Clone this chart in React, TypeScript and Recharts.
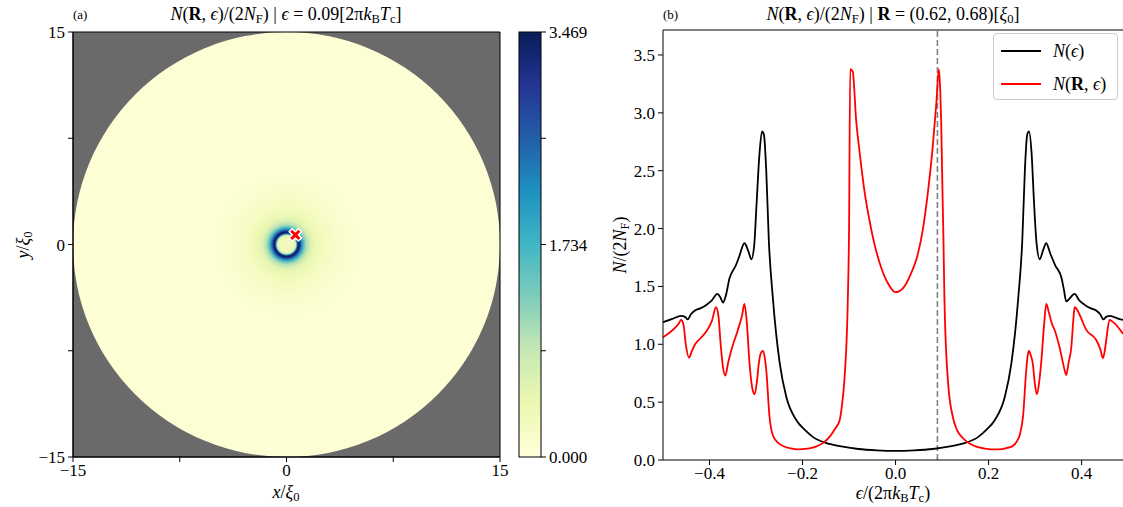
import React from 'react';
import {
  ComposedChart,
  LineChart,
  Line,
  XAxis,
  YAxis,
  ReferenceArea,
  ReferenceLine,
  Scatter,
  Legend,
} from 'recharts';

const FONT = '"Liberation Serif", "DejaVu Serif", serif';

// ---------- Panel (b): density of states ----------
const blackSeries: [number, number][] = [
  [-0.5, 1.19], [-0.48, 1.22], [-0.461, 1.245], [-0.452, 1.235], [-0.447, 1.215], [-0.44, 1.26],
  [-0.432, 1.29], [-0.42, 1.31], [-0.407, 1.34], [-0.395, 1.38], [-0.383, 1.435], [-0.376, 1.4],
  [-0.371, 1.36], [-0.365, 1.42], [-0.357, 1.57], [-0.343, 1.685], [-0.336, 1.76], [-0.325, 1.873],
  [-0.317, 1.81], [-0.31, 1.735], [-0.304, 1.85], [-0.299, 2.2], [-0.2925, 2.65], [-0.287, 2.84],
  [-0.283, 2.81], [-0.278, 2.5], [-0.2725, 1.9], [-0.264, 1.41], [-0.257, 1.1], [-0.249, 0.836],
  [-0.235, 0.547], [-0.2135, 0.346], [-0.195, 0.26], [-0.178, 0.2], [-0.15, 0.148], [-0.12, 0.12],
  [-0.08, 0.095], [-0.04, 0.083], [0, 0.078], [0.04, 0.083], [0.08, 0.095], [0.12, 0.12],
  [0.15, 0.148], [0.178, 0.2], [0.195, 0.26], [0.2135, 0.346], [0.235, 0.547], [0.249, 0.836],
  [0.257, 1.1], [0.264, 1.41], [0.2725, 1.9], [0.278, 2.5], [0.283, 2.81], [0.287, 2.84],
  [0.2925, 2.65], [0.298, 2.2], [0.303, 1.88], [0.31, 1.735], [0.317, 1.81], [0.324, 1.873],
  [0.333, 1.78], [0.343, 1.685], [0.357, 1.57], [0.362, 1.47], [0.367, 1.37], [0.373, 1.39],
  [0.385, 1.435], [0.395, 1.38], [0.407, 1.34], [0.42, 1.31], [0.432, 1.29], [0.44, 1.26],
  [0.447, 1.215], [0.452, 1.235], [0.461, 1.245], [0.48, 1.22], [0.489, 1.21],
];

const redSeries: [number, number][] = [
  [-0.5, 1.06], [-0.479, 1.124], [-0.466, 1.18], [-0.461, 1.21], [-0.456, 1.17], [-0.451, 1.0],
  [-0.444, 0.884], [-0.438, 0.94], [-0.432, 0.994], [-0.42, 1.05], [-0.407, 1.11], [-0.395, 1.2],
  [-0.386, 1.32], [-0.381, 1.25], [-0.376, 1.0], [-0.371, 0.8], [-0.366, 0.729], [-0.36, 0.84],
  [-0.353, 0.95], [-0.339, 1.124], [-0.33, 1.25], [-0.325, 1.348], [-0.32, 1.2], [-0.314, 0.836],
  [-0.308, 0.62], [-0.303, 0.568], [-0.298, 0.68], [-0.294, 0.836], [-0.289, 0.93], [-0.285, 0.942],
  [-0.281, 0.88], [-0.278, 0.778], [-0.271, 0.374], [-0.264, 0.216], [-0.253, 0.15], [-0.242, 0.121],
  [-0.225, 0.1], [-0.21, 0.092], [-0.19, 0.098], [-0.171, 0.115], [-0.155, 0.15], [-0.142, 0.2],
  [-0.13, 0.27], [-0.12, 0.346], [-0.115, 0.48], [-0.11, 0.69], [-0.1025, 1.41], [-0.1, 1.99],
  [-0.0975, 3.377], [-0.092, 3.357], [-0.085, 2.95], [-0.077, 2.65], [-0.066, 2.3], [-0.056, 2.07],
  [-0.045, 1.86], [-0.034, 1.7], [-0.0165, 1.527], [0, 1.45], [0.017, 1.49], [0.034, 1.62],
  [0.046, 1.75], [0.059, 2.0], [0.07, 2.33], [0.08, 2.71], [0.088, 3.1], [0.093, 3.377],
  [0.096, 3.2], [0.098, 2.94], [0.101, 2.3], [0.103, 1.9], [0.105, 1.41], [0.1125, 0.69],
  [0.123, 0.374], [0.132, 0.26], [0.145, 0.188], [0.16, 0.14], [0.1735, 0.115], [0.19, 0.1],
  [0.205, 0.092], [0.224, 0.092], [0.24, 0.105], [0.252, 0.121], [0.262, 0.17], [0.267, 0.216],
  [0.274, 0.374], [0.281, 0.778], [0.284, 0.9], [0.287, 0.942], [0.291, 0.9], [0.295, 0.836],
  [0.3, 0.64], [0.304, 0.568], [0.309, 0.68], [0.313, 0.836], [0.319, 1.15], [0.324, 1.348],
  [0.33, 1.27], [0.336, 1.18], [0.342, 1.124], [0.354, 0.95], [0.361, 0.82], [0.367, 0.735],
  [0.372, 0.84], [0.378, 0.98], [0.382, 1.2], [0.385, 1.32], [0.39, 1.3], [0.396, 1.253],
  [0.41, 1.124], [0.4315, 1.037], [0.44, 0.96], [0.446, 0.879], [0.45, 0.95], [0.453, 1.037],
  [0.46, 1.21], [0.465, 1.2], [0.471, 1.18], [0.489, 1.09],
];

const seriesNames = ['N(ϵ)', 'N(R, ϵ)'];
const epsTicks = [-0.4, -0.2, 0, 0.2, 0.4];
const dosTicks = [0, 0.5, 1, 1.5, 2, 2.5, 3, 3.5];
const epsDomain: [number, number] = [-0.5, 0.489];
const dosDomain: [number, number] = [0, 3.716];
const selectedEps = 0.09;

// ---------- Panel (a): LDOS map ----------
const spaceTicks = [-15, -7.5, 0, 7.5, 15];
const spaceTickLabels = ['\u221215', '', '0', '', '15'];
const diskRadius = 15;
const diskValue = 0.05;
const ringRadii = [0, 0.5, 0.65, 0.72, 0.8, 0.88, 0.95, 1.05, 1.2, 1.4, 1.7, 2.1, 2.8, 3.8, 5.0];
const ringValues = [0.3, 0.35, 0.7, 1.8, 3.2, 3.45, 3.0, 2.3, 1.6, 1.0, 0.6, 0.4, 0.25, 0.14, 0.05];
const markerPoint = [{ x: 0.62, y: 0.68 }];

// ---------- Colorbar ----------
const cbarMax = 3.469;
const cbarTicks = [0, 0.86725, 1.7345, 2.60175, 3.469];
const cbarTickLabels = ['0.000', '', '1.734', '', '3.469'];
const ylgnbu = ['#ffffd9', '#edf8b1', '#c7e9b4', '#7fcdbb', '#41b6c4', '#1d91c0', '#225ea8', '#253494', '#081d58'];

function hexToRgb(h: string) {
  return [parseInt(h.slice(1, 3), 16), parseInt(h.slice(3, 5), 16), parseInt(h.slice(5, 7), 16)];
}
function cmap(v: number) {
  const t = Math.max(0, Math.min(1, v / cbarMax)) * (ylgnbu.length - 1);
  const i = Math.min(Math.floor(t), ylgnbu.length - 2);
  const f = t - i;
  const a = hexToRgb(ylgnbu[i]);
  const b = hexToRgb(ylgnbu[i + 1]);
  const c = a.map((av, k) => Math.round(av + (b[k] - av) * f));
  return `rgb(${c[0]},${c[1]},${c[2]})`;
}

const tickStyle = { fontFamily: FONT, fontSize: 17, fill: '#000' };
const blackLine = { stroke: '#000' };

const fmtEps = (v: number) => (v < 0 ? '\u2212' + Math.abs(v).toFixed(1) : v.toFixed(1));
const fmtSpace = (v: number) => {
  const i = spaceTicks.indexOf(v);
  return i >= 0 ? spaceTickLabels[i] : '';
};
const fmtCbar = (v: number) => {
  const i = cbarTicks.indexOf(v);
  return i >= 0 ? cbarTickLabels[i] : '';
};

const blackData = blackSeries.map(([e, n]) => ({ eps: e, n }));
const redData = redSeries.map(([e, n]) => ({ eps: e, n }));

const DiskShape = (p: any) => (
  <ellipse
    cx={p.x + p.width / 2}
    cy={p.y + p.height / 2}
    rx={Math.abs(p.width) / 2}
    ry={Math.abs(p.height) / 2}
    fill={cmap(diskValue)}
  />
);

const RingShape = (p: any) => {
  const rMax = ringRadii[ringRadii.length - 1];
  return (
    <g>
      <defs>
        <radialGradient id="ringGrad" cx="50%" cy="50%" r="50%">
          {ringRadii.map((r, i) => (
            <stop key={i} offset={`${(r / rMax) * 100}%`} stopColor={cmap(ringValues[i])} />
          ))}
        </radialGradient>
      </defs>
      <ellipse
        cx={p.x + p.width / 2}
        cy={p.y + p.height / 2}
        rx={Math.abs(p.width) / 2}
        ry={Math.abs(p.height) / 2}
        fill="url(#ringGrad)"
      />
    </g>
  );
};

const MarkerShape = (p: any) => {
  const { cx, cy } = p;
  const s = 6.5;
  const a = 2.2;
  const pts = [
    [-a, -s], [a, -s], [a, -a], [s, -a], [s, a], [a, a],
    [a, s], [-a, s], [-a, a], [-s, a], [-s, -a], [-a, -a],
  ];
  const c = Math.SQRT1_2;
  const d = pts
    .map(([x, y]) => `${cx + (x - y) * c},${cy + (x + y) * c}`)
    .join(' ');
  return <polygon points={d} fill="#ff0000" stroke="#ffffff" strokeWidth={1.5} strokeLinejoin="miter" />;
};

const CbarShape = (p: any) => (
  <g>
    <defs>
      <linearGradient id="cbarGrad" x1="0" y1="1" x2="0" y2="0">
        {ylgnbu.map((c, i) => (
          <stop key={i} offset={`${(i / (ylgnbu.length - 1)) * 100}%`} stopColor={c} />
        ))}
      </linearGradient>
    </defs>
    <rect x={p.x} y={p.y} width={p.width} height={p.height} fill="url(#cbarGrad)" stroke="#000" strokeWidth={1} />
  </g>
);

const It = ({ children }: any) => <span style={{ fontStyle: 'italic' }}>{children}</span>;
const Sub = ({ children }: any) => (
  <span style={{ fontSize: '0.7em', verticalAlign: '-0.25em', lineHeight: 0 }}>{children}</span>
);

const legendLabel = (name: string) =>
  name === seriesNames[0] ? (
    <span>
      <It>N</It>(<It>ϵ</It>)
    </span>
  ) : (
    <span>
      <It>N</It>(<b>R</b>, <It>ϵ</It>)
    </span>
  );

const LegendBox = (props: any) => {
  const payload = [...(props.payload || [])].sort(
    (a: any, b: any) => seriesNames.indexOf(a.value) - seriesNames.indexOf(b.value)
  );
  return (
    <div
      style={{
        width: 125,
        height: 67,
        boxSizing: 'border-box',
        border: '1px solid #cccccc',
        borderRadius: 4,
        background: 'rgba(255,255,255,0.85)',
        fontFamily: FONT,
        fontSize: 18,
        color: '#000',
        position: 'relative',
      }}
    >
      {payload.map((entry: any, i: number) => (
        <div key={i} style={{ position: 'absolute', left: 7, top: 5 + i * 33, height: 24, display: 'flex', alignItems: 'center' }}>
          <svg width={40} height={4} style={{ marginRight: 12 }}>
            <line x1={0} y1={2} x2={40} y2={2} stroke={entry.color} strokeWidth={2} />
          </svg>
          {legendLabel(entry.value)}
        </div>
      ))}
    </div>
  );
};

const abs = (s: React.CSSProperties): React.CSSProperties => ({
  position: 'absolute',
  whiteSpace: 'nowrap',
  fontFamily: FONT,
  color: '#000',
  lineHeight: 1,
  ...s,
});

export default function App() {
  return (
    <div style={{ position: 'absolute', left: 0, top: 0, width: 1123, height: 507, background: '#fff', overflow: 'hidden' }}>
      {/* Panel (a) */}
      <div style={{ position: 'absolute', left: 0, top: 0 }}>
        <ComposedChart width={520} height={507} margin={{ top: 32, right: 20, bottom: 0, left: 0 }} data={markerPoint}>
          <XAxis
            type="number"
            dataKey="x"
            domain={[-diskRadius, diskRadius]}
            allowDataOverflow
            ticks={spaceTicks}
            interval={0}
            tickFormatter={fmtSpace}
            height={50}
            tick={tickStyle}
            tickLine={blackLine}
            axisLine={blackLine}
            tickSize={5}
            tickMargin={2}
          />
          <YAxis
            type="number"
            dataKey="y"
            domain={[-diskRadius, diskRadius]}
            allowDataOverflow
            ticks={spaceTicks}
            interval={0}
            tickFormatter={fmtSpace}
            width={73}
            tick={tickStyle}
            tickLine={blackLine}
            axisLine={blackLine}
            tickSize={5}
            tickMargin={3}
          />
          <ReferenceArea x1={-diskRadius} x2={diskRadius} y1={-diskRadius} y2={diskRadius} fill="#6a6a6a" fillOpacity={1} stroke="none" />
          <ReferenceArea x1={-diskRadius} x2={diskRadius} y1={-diskRadius} y2={diskRadius} shape={DiskShape} />
          <ReferenceArea
            x1={-ringRadii[ringRadii.length - 1]}
            x2={ringRadii[ringRadii.length - 1]}
            y1={-ringRadii[ringRadii.length - 1]}
            y2={ringRadii[ringRadii.length - 1]}
            shape={RingShape}
          />
          <Scatter dataKey="y" isAnimationActive={false} shape={MarkerShape} />
          <ReferenceArea x1={-diskRadius} x2={diskRadius} y1={-diskRadius} y2={diskRadius} fill="none" stroke="#000" strokeWidth={1} />
        </ComposedChart>
      </div>

      {/* Colorbar */}
      <div style={{ position: 'absolute', left: 500, top: 0 }}>
        <ComposedChart width={120} height={507} margin={{ top: 32, right: 0, bottom: 50, left: 19 }} data={[{ x: 0.5, v: 0 }]}>
          <XAxis type="number" dataKey="x" domain={[0, 1]} hide />
          <YAxis
            type="number"
            orientation="right"
            domain={[0, cbarMax]}
            allowDataOverflow
            ticks={cbarTicks}
            interval={0}
            tickFormatter={fmtCbar}
            width={79}
            tick={{ ...tickStyle, textAnchor: 'start' }}
            tickLine={blackLine}
            axisLine={false}
            tickSize={5}
            tickMargin={3}
          />
          <ReferenceArea x1={0} x2={1} y1={0} y2={cbarMax} shape={CbarShape} />
        </ComposedChart>
      </div>

      {/* Panel (b) */}
      <div style={{ position: 'absolute', left: 600, top: 0 }}>
        <LineChart width={523} height={507} margin={{ top: 30, right: 0, bottom: 0, left: 0 }}>
          <XAxis
            type="number"
            dataKey="eps"
            domain={epsDomain}
            allowDataOverflow
            ticks={epsTicks}
            interval={0}
            tickFormatter={fmtEps}
            height={47}
            tick={tickStyle}
            tickLine={blackLine}
            axisLine={blackLine}
            tickSize={5}
            tickMargin={2}
          />
          <YAxis
            type="number"
            domain={dosDomain}
            allowDataOverflow
            ticks={dosTicks}
            interval={0}
            tickFormatter={(v: number) => v.toFixed(1)}
            width={63}
            tick={tickStyle}
            tickLine={blackLine}
            axisLine={blackLine}
            tickSize={5}
            tickMargin={3}
          />
          <ReferenceLine y={dosDomain[1]} stroke="#000" ifOverflow="visible" />
          <ReferenceLine x={selectedEps} stroke="#808080" strokeWidth={1.6} strokeDasharray="6 3" />
          <Line
            data={blackData}
            dataKey="n"
            name={seriesNames[0]}
            stroke="#000000"
            strokeWidth={1.8}
            dot={false}
            type="monotone"
            isAnimationActive={false}
          />
          <Line
            data={redData}
            dataKey="n"
            name={seriesNames[1]}
            stroke="#ff0000"
            strokeWidth={1.8}
            dot={false}
            type="monotone"
            isAnimationActive={false}
          />
          <Legend
            layout="horizontal"
            verticalAlign="middle"
            align="center"
            content={LegendBox}
            wrapperStyle={{ left: 393, top: 33, width: 125, height: 67 }}
          />
        </LineChart>
      </div>

      {/* Titles and axis labels */}
      <div style={abs({ left: 73, top: 8, fontSize: 13 })}>(a)</div>
      <div style={abs({ left: 86, width: 400, top: 5, fontSize: 18, textAlign: 'center' })}>
        <It>N</It>(<b>R</b>, <It>ϵ</It>)/(2<It>N</It>
        <Sub>F</Sub>) | <It>ϵ</It> = 0.09[2π<It>k</It>
        <Sub>B</Sub>
        <It>T</It>
        <Sub>c</Sub>]
      </div>
      <div style={abs({ left: 663, top: 8, fontSize: 13 })}>(b)</div>
      <div style={abs({ left: 693, width: 400, top: 5, fontSize: 18, textAlign: 'center' })}>
        <It>N</It>(<b>R</b>, <It>ϵ</It>)/(2<It>N</It>
        <Sub>F</Sub>) | <b>R</b> = (0.62, 0.68)[<It>ξ</It>
        <Sub>0</Sub>]
      </div>

      <div style={abs({ left: 286, top: 492, fontSize: 18, transform: 'translate(-50%, -50%)' })}>
        <It>x</It>/<It>ξ</It>
        <Sub>0</Sub>
      </div>
      <div style={abs({ left: 23, top: 245, fontSize: 18, transform: 'translate(-50%, -50%) rotate(-90deg)' })}>
        <It>y</It>/<It>ξ</It>
        <Sub>0</Sub>
      </div>
      <div style={abs({ left: 893, top: 493, fontSize: 18, transform: 'translate(-50%, -50%)' })}>
        <It>ϵ</It>/(2π<It>k</It>
        <Sub>B</Sub>
        <It>T</It>
        <Sub>c</Sub>)
      </div>
      <div style={abs({ left: 620, top: 245, fontSize: 18, transform: 'translate(-50%, -50%) rotate(-90deg)' })}>
        <It>N</It>/(2<It>N</It>
        <Sub>F</Sub>)
      </div>
    </div>
  );
}
